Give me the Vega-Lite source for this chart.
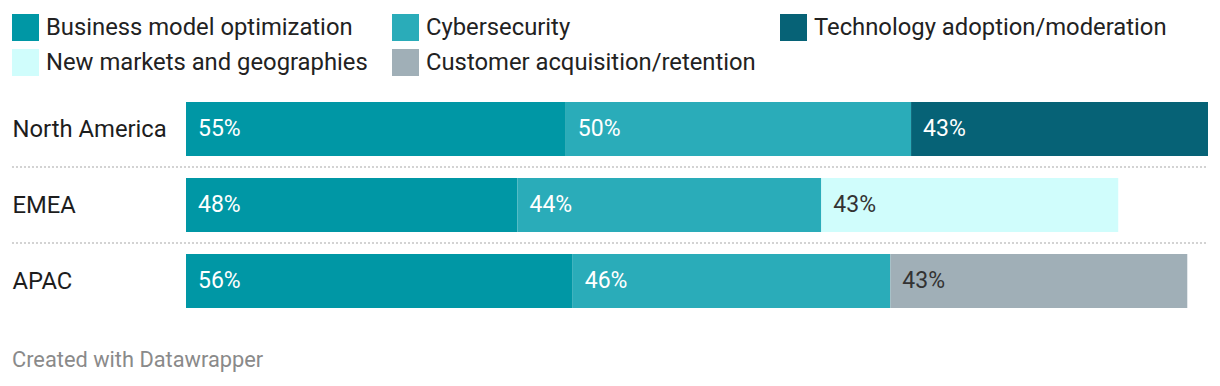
{
  "$schema": "https://vega.github.io/schema/vega-lite/v6.json",
  "width": 1022,
  "height": 228,
  "autosize": {"type": "none"},
  "padding": {"left": 186, "top": 91, "right": 12, "bottom": 67},
  "background": "white",
  "config": {"view": {"stroke": null}, "font": "Roboto"},
  "title": {"text": "Created with Datawrapper", "orient": "bottom", "anchor": "start", "frame": "group", "dx": -174, "offset": 31, "fontSize": 21.8, "fontWeight": "normal", "color": "#8a8a8a", "font": "Roboto"},
  "data": {"values": [
    {"region": "North America", "category": "Business model optimization", "rank": 1, "value": 0.55},
    {"region": "North America", "category": "Cybersecurity", "rank": 2, "value": 0.50},
    {"region": "North America", "category": "Technology adoption/moderation", "rank": 3, "value": 0.43},
    {"region": "EMEA", "category": "Business model optimization", "rank": 1, "value": 0.48},
    {"region": "EMEA", "category": "Cybersecurity", "rank": 2, "value": 0.44},
    {"region": "EMEA", "category": "New markets and geographies", "rank": 3, "value": 0.43},
    {"region": "APAC", "category": "Business model optimization", "rank": 1, "value": 0.56},
    {"region": "APAC", "category": "Cybersecurity", "rank": 2, "value": 0.46},
    {"region": "APAC", "category": "Customer acquisition/retention", "rank": 3, "value": 0.43}
  ]},
  "transform": [
    {"stack": "value", "groupby": ["region"], "sort": [{"field": "rank", "order": "ascending"}], "as": ["x0", "x1"]}
  ],
  "encoding": {
    "y": {
      "field": "region", "type": "nominal",
      "sort": ["North America", "EMEA", "APAC"],
      "scale": {"paddingInner": 0.2895, "paddingOuter": 0.1447},
      "axis": {"title": null, "domain": false, "ticks": false, "grid": false, "labelAlign": "left", "labelPadding": 174, "labelFontSize": 23.8, "labelColor": "#1d1d1d", "labelFont": "Roboto", "labelLimit": 200, "labelOffset": 1}
    }
  },
  "layer": [
    {
      "mark": {"type": "bar", "cornerRadius": 0},
      "encoding": {
        "x": {"field": "x0", "type": "quantitative", "scale": {"domain": [0, 1.48], "nice": false}, "axis": null},
        "x2": {"field": "x1"},
        "color": {
          "field": "category", "type": "nominal",
          "scale": {
            "domain": ["Business model optimization", "Cybersecurity", "Technology adoption/moderation", "New markets and geographies", "Customer acquisition/retention"],
            "range": ["#0097a5", "#2aacb9", "#066276", "#d0fdfc", "#a0afb7"]
          },
          "legend": {
            "orient": "none", "legendX": -174, "legendY": -77,
            "direction": "horizontal", "columns": 3, "title": null,
            "symbolType": "square", "symbolSize": 729, "symbolStrokeWidth": 0, "symbolOpacity": 1,
            "labelFontSize": 23.8, "labelColor": "#222222", "labelFont": "Roboto", "labelOffset": 7, "labelLimit": 500,
            "columnPadding": 24, "rowPadding": 8
          }
        }
      }
    },
    {
      "mark": {"type": "text", "align": "left", "baseline": "middle", "dx": 12, "fontSize": 23, "font": "Roboto"},
      "encoding": {
        "x": {"field": "x0", "type": "quantitative"},
        "text": {"field": "value", "type": "quantitative", "format": ".0%"},
        "color": {
          "condition": {"test": "datum.category === 'New markets and geographies' || datum.category === 'Customer acquisition/retention'", "value": "#333333"},
          "value": "#ffffff"
        }
      }
    },
    {
      "transform": [{"filter": "datum.rank == 1 && datum.region != 'APAC'"}],
      "mark": {"type": "rule", "yOffset": 38, "color": "#d3d3d3", "strokeWidth": 2, "strokeDash": [2, 2]},
      "encoding": {
        "x": {"datum": -0.252, "type": "quantitative"},
        "x2": {"datum": 1.48}
      }
    }
  ]
}
